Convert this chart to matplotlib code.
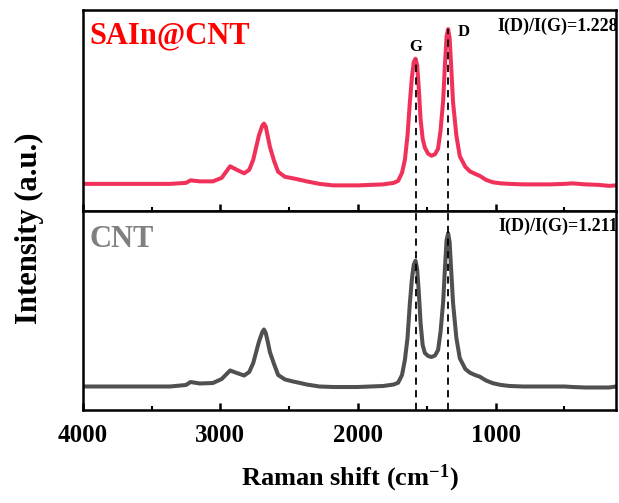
import matplotlib
matplotlib.use("Agg")
import matplotlib.pyplot as plt
from matplotlib.ticker import MultipleLocator, NullLocator

plt.rcParams['font.family'] = ['Liberation Serif', 'DejaVu Serif']
plt.rcParams['font.weight'] = 'bold'
plt.rcParams['axes.labelweight'] = 'bold'
plt.rcParams['mathtext.fontset'] = 'custom'
plt.rcParams['mathtext.rm'] = 'Liberation Serif:bold'
plt.rcParams['mathtext.bf'] = 'Liberation Serif:bold'
plt.rcParams['mathtext.it'] = 'Liberation Serif:bold'
plt.rcParams['mathtext.default'] = 'bf'

# Raman shift (cm-1) and intensity (a.u.)
shift = [4000, 3700, 3366, 3250, 3216, 3150, 3054, 2990, 2929, 2880, 2827, 2790,
         2761, 2720, 2695, 2683, 2670, 2655, 2640, 2610, 2580, 2530, 2471, 2420,
         2373, 2280, 2180, 2000, 1817, 1740, 1708, 1680, 1659, 1640, 1623, 1608,
         1595, 1582, 1570, 1558, 1545, 1530, 1514, 1490, 1466, 1440, 1418, 1400,
         1381, 1368, 1356, 1345, 1334, 1322, 1309, 1285, 1260, 1220, 1187, 1150,
         1115, 1070, 1018, 960, 897, 800, 700, 600, 500, 440, 350, 250, 176, 125]

sain_cnt = [27, 27, 27, 28, 30.5, 29.5, 29.5, 33, 44.5, 41, 37.5, 41,
            51, 75, 85, 87, 84, 74, 64, 50, 39, 34, 32.5, 31,
            29.5, 27, 25.5, 25.5, 26.5, 28, 30, 38, 51, 75, 108, 133,
            148, 151.5, 145, 122, 91, 72, 63, 57, 55, 56.5, 62, 80,
            110, 146, 174, 181, 172, 142, 108, 75, 54.5, 44, 39.5, 37,
            35, 31, 28.5, 27.5, 27, 26.5, 26.5, 26.5, 27, 27.5, 26.5, 26, 25, 25.5]

cnt = [23.5, 23.5, 23.5, 25, 28, 26.5, 27, 31, 39.5, 37, 34.5, 38,
       47, 68, 78, 80.5, 77, 68, 58, 46, 35, 30.5, 28.5, 27,
       25.5, 23.5, 23, 23, 24, 25.5, 27.3, 35, 50, 72, 106.7, 131,
       145, 149.3, 141, 118, 86.7, 65, 57, 54, 53, 54.5, 60, 78,
       108, 142, 170, 176.7, 168, 138, 106.7, 72, 51.7, 41, 37.3, 35,
       33.3, 29.5, 26.7, 25, 24, 23.5, 23.5, 23.5, 23.5, 23, 22.5, 22.5, 22.5, 23.5]

g_band = 1580
d_band = 1343
ratio_top = 'I(D)/I(G)=1.228'
ratio_bottom = 'I(D)/I(G)=1.211'

fig = plt.figure(figsize=(6.19, 5.03), dpi=100)
ax1 = fig.add_axes([0.1336, 0.5805, 0.8616, 0.3996])
ax2 = fig.add_axes([0.1336, 0.1849, 0.8616, 0.3956], sharex=ax1)

ax1.plot(shift, sain_cnt, color='#f0325a', lw=2.9, solid_joinstyle='round')
ax2.plot(shift, cnt, color='#505050', lw=2.9, solid_joinstyle='round')

ax1.set_ylim(0, 200)
ax2.set_ylim(0, 199)
ax1.set_xlim(4000, 125)

# dashed guides through G and D bands
dash = (0, (4, 3))
ax1.vlines([g_band], 0, 151, colors='k', linestyles=dash, lw=1.3, zorder=3)
ax1.vlines([d_band], 0, 181, colors='k', linestyles=dash, lw=1.3, zorder=3)
ax2.axvline(g_band, color='k', ls=dash, lw=1.3, zorder=3)
ax2.axvline(d_band, color='k', ls=dash, lw=1.3, zorder=3)

ax1.text(g_band, 159, 'G', ha='center', va='baseline', fontsize=12)
ax1.text(d_band - 65, 174, 'D', ha='left', va='baseline', fontsize=12)

ax1.text(0.012, 0.836, 'SAIn@CNT', color='#ff0000', fontsize=22,
         transform=ax1.transAxes, va='baseline')
ax2.text(0.012, 0.82, 'CNT', color='#808080', fontsize=22,
         transform=ax2.transAxes, va='baseline')
ax1.text(1.003, 0.895, ratio_top, fontsize=13, ha='right', va='baseline',
         transform=ax1.transAxes)
ax2.text(1.003, 0.90, ratio_bottom, fontsize=13, ha='right', va='baseline',
         transform=ax2.transAxes)

for ax in (ax1, ax2):
    for s in ax.spines.values():
        s.set_linewidth(1.8)
    ax.yaxis.set_major_locator(NullLocator())
    ax.xaxis.set_major_locator(MultipleLocator(1000))
    ax.xaxis.set_minor_locator(MultipleLocator(500))
    ax.tick_params(axis='x', which='major', direction='in', length=5, width=1.8,
                   labelsize=18, pad=10)
    ax.tick_params(axis='x', which='minor', direction='in', length=3, width=1.5)
ax1.tick_params(axis='x', which='both', labelbottom=False)

ax2.set_xlabel(r'Raman shift (cm$^{-1}$)', fontsize=19, labelpad=11)
fig.text(0.047, 0.547, 'Intensity (a.u.)', rotation=90, fontsize=22,
         ha='center', va='center')

fig.savefig('out.png', dpi=100)
